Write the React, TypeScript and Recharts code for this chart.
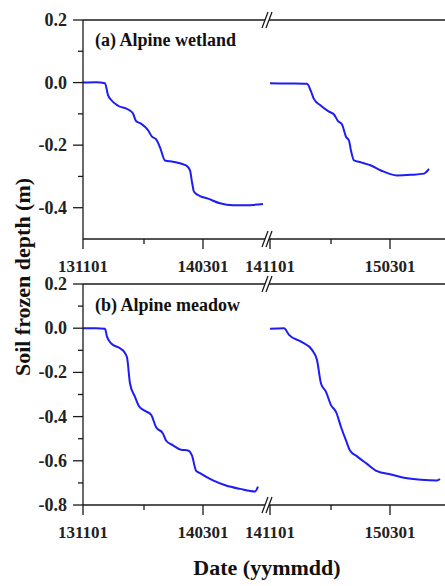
import { LineChart, Line, XAxis, YAxis, ReferenceLine, ReferenceDot } from 'recharts';

// x axis: days since 1 Nov of each freezing season; season 2 is drawn after the axis break
const xTickDays = [0, 61, 120, 187, 248, 307];
const xTickLabels = ['131101', '', '140301', '141101', '', '150301'];
const SEASON2_START = 187;
const BREAK_AT = 184;
const X_MAX = 397;

const wetlandYTicks = [0.2, 0.1, 0, -0.1, -0.2, -0.3, -0.4];
const meadowYTicks = [0.2, 0.1, 0, -0.1, -0.2, -0.3, -0.4, -0.5, -0.6, -0.7, -0.8];

// (a) Alpine wetland
const wetlandDays1 = [0, 13, 22, 25, 28, 35, 45, 50, 53, 58, 65, 69, 73, 77, 82, 90, 103, 107, 109, 111, 117, 125, 137, 150, 163, 180];
const wetlandDepth1 = [0, 0.001, -0.002, -0.04, -0.055, -0.074, -0.086, -0.099, -0.123, -0.131, -0.152, -0.173, -0.181, -0.207, -0.249, -0.253, -0.265, -0.281, -0.318, -0.349, -0.363, -0.371, -0.386, -0.392, -0.392, -0.388];
const wetlandDays2 = [0, 17, 37, 41, 44, 51, 59, 64, 68, 72, 76, 79, 81, 84, 91, 101, 111, 127, 141, 154, 159];
const wetlandDepth2 = [-0.002, -0.003, -0.004, -0.028, -0.053, -0.074, -0.093, -0.102, -0.123, -0.134, -0.173, -0.186, -0.218, -0.249, -0.255, -0.265, -0.281, -0.297, -0.295, -0.291, -0.276];

// (b) Alpine meadow
const meadowDays1 = [0, 13, 22, 24, 28, 37, 41, 44, 47, 52, 56, 62, 68, 73, 80, 83, 90, 98, 105, 109, 113, 117, 130, 143, 157, 172, 175];
const meadowDepth1 = [0, 0, -0.003, -0.038, -0.068, -0.091, -0.106, -0.132, -0.25, -0.311, -0.353, -0.374, -0.391, -0.447, -0.477, -0.508, -0.53, -0.55, -0.553, -0.576, -0.644, -0.656, -0.689, -0.712, -0.727, -0.739, -0.717];
const meadowDays2 = [0, 14, 19, 31, 42, 47, 51, 56, 61, 66, 71, 76, 80, 87, 97, 107, 121, 134, 151, 167, 170];
const meadowDepth2 = [-0.003, 0, -0.03, -0.061, -0.098, -0.144, -0.25, -0.288, -0.348, -0.379, -0.447, -0.508, -0.553, -0.58, -0.614, -0.647, -0.662, -0.677, -0.686, -0.689, -0.682];

const toSeries = (days: number[], depth: number[], start: number) =>
  days.map((d, i) => ({ x: start + d, y: depth[i] }));

const FONT = '"Liberation Serif", "Times New Roman", serif';
const AXIS = '#1a1a1a';
const BLUE = '#1c1cf5';

const XTick = ({ x, y, payload }: any) => {
  const i = xTickDays.indexOf(payload.value);
  const label = xTickLabels[i] || '';
  const major = label !== '';
  return (
    <g>
      <line x1={x} y1={y} x2={x} y2={y + (major ? 10 : 5)} stroke={AXIS} strokeWidth={1.3} />
      {major && (
        <text x={x} y={y + 27} textAnchor="middle" dominantBaseline="central"
          fontFamily={FONT} fontWeight="bold" fontSize={17} fill="#222">{label}</text>
      )}
    </g>
  );
};

const YTick = ({ x, y, payload }: any) => {
  const major = Math.round(payload.value * 10) % 2 === 0;
  return (
    <g>
      <line x1={x - (major ? 10 : 5)} y1={y} x2={x} y2={y} stroke={AXIS} strokeWidth={1.3} />
      {major && (
        <text x={x - 16} y={y} textAnchor="end" dominantBaseline="central"
          fontFamily={FONT} fontWeight="bold" fontSize={18} fill="#222">{payload.value.toFixed(1)}</text>
      )}
    </g>
  );
};

const BreakMark = ({ cx, cy }: any) => (
  <g>
    <polygon points={`${cx - 5},${cy + 8} ${cx + 1},${cy - 8} ${cx + 5},${cy - 8} ${cx - 1},${cy + 8}`} fill="#fff" />
    <line x1={cx - 5} y1={cy + 8} x2={cx + 1} y2={cy - 8} stroke={AXIS} strokeWidth={1.3} />
    <line x1={cx - 1} y1={cy + 8} x2={cx + 5} y2={cy - 8} stroke={AXIS} strokeWidth={1.3} />
  </g>
);

function Panel({ height, yMin, yTicks, s1, s2 }: { height: number; yMin: number; yTicks: number[]; s1: any[]; s2: any[] }) {
  return (
    <LineChart width={480} height={height} margin={{ top: 20, right: 0, bottom: 0, left: 23 }}>
      <XAxis type="number" dataKey="x" domain={[0, X_MAX]} ticks={xTickDays} interval={0}
        height={36} tickSize={0} tickMargin={0} tickLine={false} tick={<XTick />}
        axisLine={{ stroke: AXIS, strokeWidth: 1.3 }} allowDataOverflow />
      <YAxis type="number" domain={[yMin, 0.2]} ticks={yTicks} interval={0} width={60}
        tickSize={0} tickMargin={0} tickLine={false} tick={<YTick />}
        axisLine={{ stroke: AXIS, strokeWidth: 1.3 }} allowDataOverflow />
      <ReferenceLine y={0.2} stroke={AXIS} strokeWidth={1.3} />
      <Line data={s1} dataKey="y" type="monotone" stroke={BLUE} strokeWidth={2} dot={false} isAnimationActive={false} />
      <Line data={s2} dataKey="y" type="monotone" stroke={BLUE} strokeWidth={2} dot={false} isAnimationActive={false} />
      <ReferenceDot x={BREAK_AT} y={0.2} ifOverflow="visible" shape={<BreakMark />} />
      <ReferenceDot x={BREAK_AT} y={yMin} ifOverflow="visible" shape={<BreakMark />} />
    </LineChart>
  );
}

export default function App() {
  const titleStyle = { fontFamily: FONT, fontWeight: 'bold' as const, fill: '#111' };
  return (
    <div style={{ position: 'absolute', left: 0, top: 0, width: 445, height: 586, overflow: 'hidden', background: '#fff' }}>
      <div style={{ position: 'absolute', left: 0, top: 0 }}>
        <Panel height={275} yMin={-0.5} yTicks={wetlandYTicks}
          s1={toSeries(wetlandDays1, wetlandDepth1, 0)} s2={toSeries(wetlandDays2, wetlandDepth2, SEASON2_START)} />
      </div>
      <div style={{ position: 'absolute', left: 0, top: 264 }}>
        <Panel height={277} yMin={-0.8} yTicks={meadowYTicks}
          s1={toSeries(meadowDays1, meadowDepth1, 0)} s2={toSeries(meadowDays2, meadowDepth2, SEASON2_START)} />
      </div>
      <svg width={445} height={586} style={{ position: 'absolute', left: 0, top: 0, pointerEvents: 'none' }}>
        <text x={95} y={40} dominantBaseline="central" fontSize={18} {...titleStyle}>(a) Alpine wetland</text>
        <text x={95} y={305} dominantBaseline="central" fontSize={18} {...titleStyle}>(b) Alpine meadow</text>
        <text x={267} y={567} textAnchor="middle" dominantBaseline="central" fontSize={22} {...titleStyle}>Date (yymmdd)</text>
        <text x={22} y={277} textAnchor="middle" dominantBaseline="central" fontSize={22}
          transform="rotate(-90 22 277)" {...titleStyle}>Soil frozen depth (m)</text>
      </svg>
    </div>
  );
}
